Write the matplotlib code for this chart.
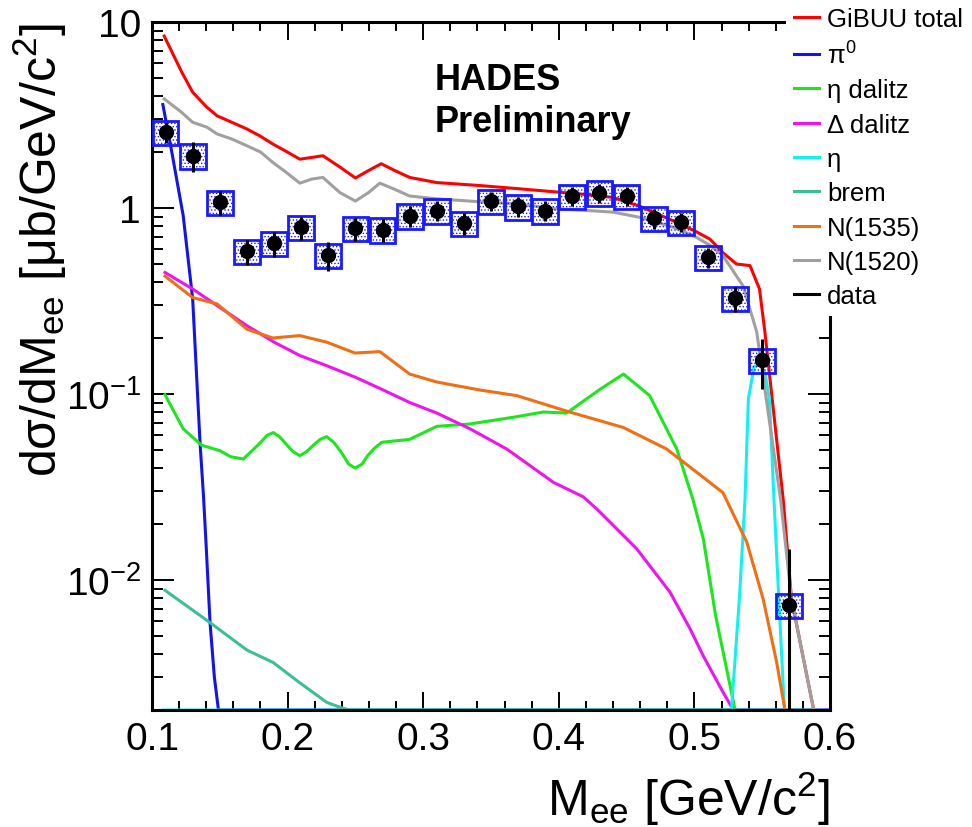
import numpy as np
import matplotlib
matplotlib.use("Agg")
import matplotlib.pyplot as plt
from matplotlib.lines import Line2D
from matplotlib.ticker import FixedLocator, FixedFormatter, MultipleLocator, LogLocator, NullFormatter

plt.rcParams['font.family'] = ['Liberation Sans', 'DejaVu Sans']
plt.rcParams['mathtext.fontset'] = 'custom'
plt.rcParams['mathtext.rm'] = 'Liberation Sans'
plt.rcParams['mathtext.it'] = 'Liberation Sans:italic'
plt.rcParams['mathtext.bf'] = 'Liberation Sans:bold'
plt.rcParams['hatch.linewidth'] = 0.6

# --- HADES data points (bin centres, cross section, stat. and syst. errors)
mee = [0.11, 0.13, 0.15, 0.17, 0.19, 0.21, 0.23, 0.25, 0.27, 0.29, 0.31, 0.33,
       0.35, 0.37, 0.39, 0.41, 0.43, 0.45, 0.47, 0.49, 0.51, 0.53, 0.55, 0.57]
xsec = [2.55, 1.91, 1.08, 0.585, 0.646, 0.787, 0.558, 0.778, 0.764, 0.91, 0.967, 0.83,
        1.09, 1.02, 0.967, 1.16, 1.21, 1.16, 0.88, 0.84, 0.543, 0.327, 0.152, 0.00736]
stat_err = [0.31, 0.35, 0.16, 0.09, 0.10, 0.11, 0.10, 0.11, 0.11, 0.12, 0.12, 0.11,
            0.13, 0.12, 0.12, 0.13, 0.14, 0.13, 0.11, 0.10, 0.07, 0.05, 0.045, 0.0073]
sys_err = [0.38, 0.29, 0.16, 0.088, 0.097, 0.118, 0.084, 0.117, 0.115, 0.137, 0.145, 0.125,
           0.164, 0.153, 0.145, 0.174, 0.182, 0.174, 0.132, 0.126, 0.081, 0.049, 0.023, 0.0011]

# --- GiBUU model curves
total_x = [0.109, 0.1218, 0.130, 0.1405, 0.148, 0.1588, 0.170, 0.180, 0.189, 0.1987, 0.209,
           0.2178, 0.226, 0.2386, 0.250, 0.2597, 0.269, 0.279, 0.290, 0.310, 0.342, 0.370,
           0.398, 0.4205, 0.440, 0.460, 0.484, 0.500, 0.5115, 0.521, 0.531, 0.541, 0.548,
           0.552, 0.556, 0.5655, 0.5716, 0.588]
total_y = [8.4, 5.4, 4.19, 3.48, 3.13, 2.89, 2.66, 2.43, 2.21, 2.02, 1.83,
           1.87, 1.91, 1.66, 1.45, 1.59, 1.73, 1.59, 1.46, 1.37, 1.32, 1.27,
           1.22, 1.18, 1.14, 1.02, 0.855, 0.755, 0.68, 0.575, 0.50, 0.49, 0.367,
           0.215, 0.116, 0.027, 0.0079, 0.002]

pi0_x = [0.108, 0.1147, 0.123, 0.130, 0.1354, 0.138, 0.140, 0.1428, 0.146, 0.149, 0.150, 0.600]
pi0_y = [3.6, 1.98, 0.91, 0.324, 0.055, 0.028, 0.015, 0.0059, 0.0030, 0.0019, 0.0, 0.0]

etadal_x = [0.1096, 0.123, 0.1366, 0.150, 0.158, 0.1673, 0.178, 0.185, 0.1894, 0.194, 0.1987,
            0.204, 0.209, 0.214, 0.219, 0.224, 0.2288, 0.234, 0.2395, 0.245, 0.2497, 0.255,
            0.259, 0.264, 0.2694, 0.290, 0.310, 0.3345, 0.3665, 0.3886, 0.4058,
            0.4304, 0.4477, 0.467, 0.487, 0.499, 0.5066, 0.5157, 0.530]
etadal_y = [0.099, 0.065, 0.053, 0.0496, 0.046, 0.0447, 0.053, 0.060, 0.062, 0.059, 0.054,
            0.049, 0.0466, 0.049, 0.053, 0.057, 0.059, 0.055, 0.0487, 0.042, 0.040, 0.042,
            0.0466, 0.051, 0.055, 0.057, 0.067, 0.069, 0.075, 0.080, 0.079,
            0.106, 0.128, 0.098, 0.0506, 0.027, 0.0166, 0.0064, 0.002]

delta_x = [0.1096, 0.130, 0.150, 0.170, 0.190, 0.209, 0.2288, 0.250, 0.2694, 0.290, 0.310,
           0.3345, 0.3616, 0.396, 0.418, 0.428, 0.4575, 0.482, 0.4966, 0.5066, 0.521, 0.5287]
delta_y = [0.45, 0.367, 0.292, 0.233, 0.19, 0.161, 0.142, 0.123, 0.106, 0.090, 0.079,
           0.065, 0.0506, 0.0335, 0.028, 0.0241, 0.0147, 0.0086, 0.0055, 0.0039, 0.0025, 0.002]

eta_x = [0.108, 0.520, 0.5273, 0.5332, 0.5373, 0.5398, 0.544, 0.548, 0.552, 0.5553,
         0.5587, 0.5622, 0.5664, 0.570]
eta_y = [0.0, 0.0, 0.002, 0.008, 0.027, 0.094, 0.14, 0.145, 0.13, 0.094,
         0.027, 0.008, 0.002, 0.0]

brem_x = [0.1096, 0.1428, 0.170, 0.1894, 0.209, 0.2288, 0.240, 0.246, 0.590]
brem_y = [0.0088, 0.0059, 0.0042, 0.0036, 0.0028, 0.0022, 0.00205, 0.0, 0.0]

n1535_x = [0.1096, 0.130, 0.148, 0.170, 0.189, 0.209, 0.2288, 0.2497, 0.268, 0.290, 0.310,
           0.342, 0.369, 0.408, 0.4477, 0.4795, 0.5016, 0.521, 0.5386, 0.5507, 0.5607, 0.5668]
n1535_y = [0.43, 0.33, 0.305, 0.223, 0.20, 0.206, 0.19, 0.166, 0.169, 0.128, 0.116,
           0.105, 0.098, 0.080, 0.066, 0.0506, 0.038, 0.0295, 0.016, 0.0079, 0.0036, 0.002]

n1520_x = [0.109, 0.1218, 0.130, 0.1405, 0.148, 0.1588, 0.170, 0.180, 0.189, 0.1987, 0.209,
           0.2178, 0.226, 0.2386, 0.250, 0.2597, 0.268, 0.279, 0.290, 0.310, 0.342, 0.370,
           0.398, 0.4205, 0.440, 0.460, 0.484, 0.500, 0.5115, 0.521, 0.536, 0.546, 0.553,
           0.5636, 0.5716, 0.588]
n1520_y = [3.86, 3.27, 2.89, 2.72, 2.50, 2.35, 2.16, 2.0, 1.76, 1.56, 1.36,
           1.43, 1.46, 1.21, 1.09, 1.21, 1.36, 1.26, 1.16, 1.12, 1.08, 1.05,
           0.99, 0.97, 0.95, 0.89, 0.79, 0.705, 0.63, 0.555, 0.38, 0.215, 0.094,
           0.027, 0.0079, 0.002]

labels = ['GiBUU total', 'π$^{0}$', 'η dalitz', 'Δ dalitz', 'η', 'brem',
          'N(1535)', 'N(1520)', 'data']
colors = ['#ff0000', '#1414e6', '#1ee61e', '#ee14ee', '#14f0f0', '#3cbe96',
          '#f06e14', '#a0a0a0', '#000000']

xticks = [0.1, 0.2, 0.3, 0.4, 0.5, 0.6]
xtick_labels = ['0.1', '0.2', '0.3', '0.4', '0.5', '0.6']
yticks = [0.01, 0.1, 1, 10]
ytick_labels = ['$10^{-2}$', '$10^{-1}$', '1', '10']

ymin, ymax = 0.002, 10.0

fig = plt.figure(figsize=(9.72, 8.28), dpi=100)
ax = fig.add_axes([152 / 972, 1 - 711 / 828, 678 / 972, 688 / 828])
ax.set_yscale('log')
ax.set_xlim(0.1, 0.6)
ax.set_ylim(ymin, ymax)

curves = [(total_x, total_y), (pi0_x, pi0_y), (etadal_x, etadal_y), (delta_x, delta_y),
          (eta_x, eta_y), (brem_x, brem_y), (n1535_x, n1535_y), (n1520_x, n1520_y)]
for (cx, cy), col in zip(curves, colors):
    # values at zero sit on the lower frame, like ROOT does
    ax.plot(cx, np.clip(cy, ymin, None), color=col, lw=2.2, zorder=2)

# systematic boxes
ax.bar(mee, 2 * np.array(sys_err), width=0.019, bottom=np.array(xsec) - np.array(sys_err),
       facecolor='none', edgecolor='#1a1aff', lw=2.0, hatch='.....', zorder=3)
ax.errorbar(mee, xsec, yerr=stat_err, fmt='o', color='black', ms=10, elinewidth=2.2,
            capsize=0, zorder=4)

# axes styling
for sp in ax.spines.values():
    sp.set_linewidth(2.2)
ax.xaxis.set_major_locator(FixedLocator(xticks))
ax.xaxis.set_major_formatter(FixedFormatter(xtick_labels))
ax.xaxis.set_minor_locator(MultipleLocator(0.02))
ax.yaxis.set_major_locator(FixedLocator(yticks))
ax.yaxis.set_major_formatter(FixedFormatter(ytick_labels))
ax.yaxis.set_minor_locator(LogLocator(base=10, subs=np.arange(2, 10)))
ax.yaxis.set_minor_formatter(NullFormatter())
ax.tick_params(which='both', direction='in', top=True, right=True, width=1.4, labelsize=28)
ax.tick_params(axis='x', which='major', length=13, pad=8)
ax.tick_params(axis='x', which='minor', length=6.5)
ax.tick_params(axis='y', which='major', length=16, pad=8)
ax.tick_params(axis='y', which='minor', length=8)

ax.set_xlabel('M$_{\\rm ee}$ [GeV/c$^{2}$]', fontsize=36, loc='right')
ax.xaxis.set_label_coords(1.0, -0.085)
ax.set_ylabel('dσ/dM$_{\\rm ee}$ [μb/GeV/c$^{2}$]', fontsize=36, loc='top')
ax.yaxis.set_label_coords(-0.122, 1.0)

ax.text(0.417, 0.9026, 'HADES', transform=ax.transAxes, fontsize=26,
        fontweight='bold', va='baseline')
ax.text(0.417, 0.8416, 'Preliminary', transform=ax.transAxes, fontsize=26,
        fontweight='bold', va='baseline')

handles = [Line2D([], [], color=c, lw=2.2) for c in colors]
leg = ax.legend(handles, labels, loc='upper left', bbox_to_anchor=(786 / 972, 1.0),
                bbox_transform=fig.transFigure, fontsize=18.5, frameon=True,
                facecolor='white', edgecolor='none', framealpha=1, fancybox=False,
                borderpad=0.3, borderaxespad=0, handlelength=1.0, handletextpad=0.3,
                labelspacing=0.4)
leg.set_zorder(10)

fig.savefig('out.png', dpi=100)
